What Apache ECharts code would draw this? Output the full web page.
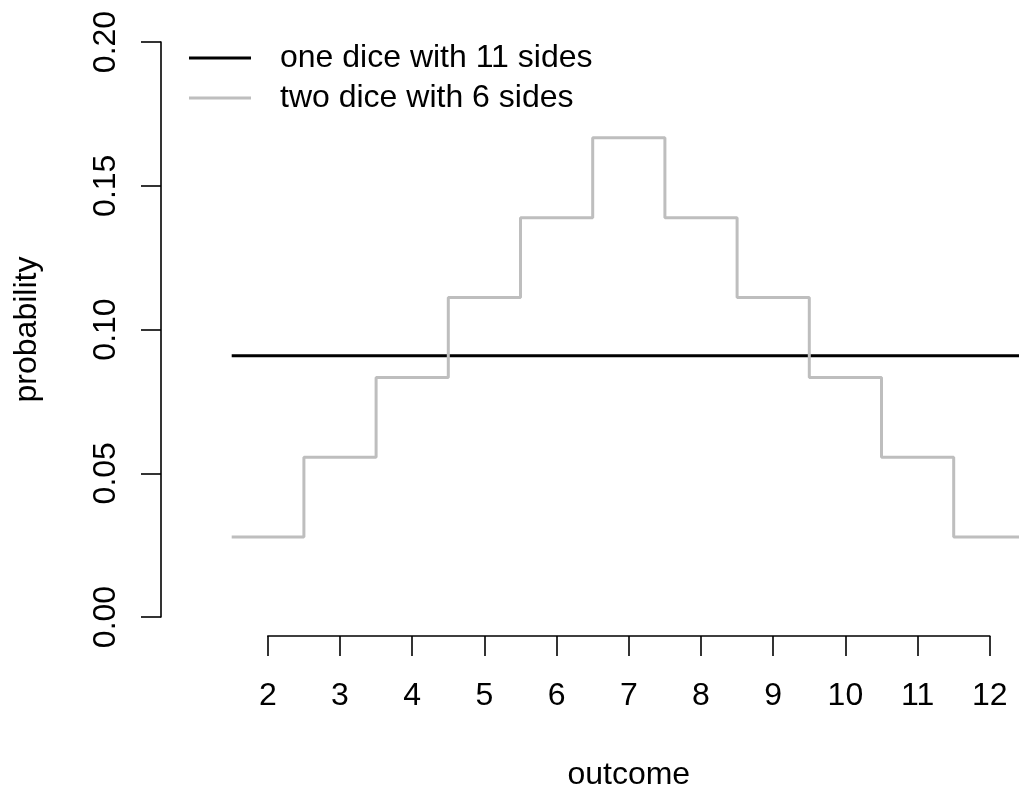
<!DOCTYPE html>
<html>
<head>
<meta charset="utf-8">
<script src="https://cdn.jsdelivr.net/npm/echarts@6/dist/echarts.min.js"></script>
<style>
html,body{margin:0;padding:0;background:#fff;}
#chart{width:1019px;height:792px;}
</style>
</head>
<body>
<div id="chart"></div>
<script>
// ---- data ----
const outcomes = [2, 3, 4, 5, 6, 7, 8, 9, 10, 11, 12];
const oneDice11 = [0.0909, 0.0909, 0.0909, 0.0909, 0.0909, 0.0909, 0.0909, 0.0909, 0.0909, 0.0909, 0.0909];
const twoDice6 = [0.0278, 0.0556, 0.0833, 0.1111, 0.1389, 0.1667, 0.1389, 0.1111, 0.0833, 0.0556, 0.0278];
const seriesNames = ['one dice with 11 sides', 'two dice with 6 sides'];
const yTicks = [0, 0.05, 0.10, 0.15, 0.20];
const xTicks = [2, 3, 4, 5, 6, 7, 8, 9, 10, 11, 12];

// step data: each outcome spans [x-0.5, x+0.5]
function stepData(xs, vs) {
  const d = [[xs[0] - 0.5, vs[0]]];
  xs.forEach((x, i) => d.push([x, vs[i]]));
  d.push([xs[xs.length - 1] + 0.5, vs[vs.length - 1]]);
  return d;
}

const FONT = 'Liberation Sans, Arial, Helvetica, sans-serif';
const W = 1019;
const unit = 72.2;           // px per outcome unit
const xLeft = 161;           // y-axis line position
const x2px = 267.8;          // position of outcome 2
const xMin = xTicks[0] - (x2px - xLeft) / unit;
const xMax = xMin + (W - xLeft) / unit;

const chart = echarts.init(document.getElementById('chart'), null, {renderer: 'canvas'});
chart.setOption({
  animation: false,
  backgroundColor: '#ffffff',
  textStyle: {fontFamily: FONT},
  grid: [
    {left: xLeft, top: 42, width: W - xLeft, height: 575, containLabel: false},
    {left: x2px, top: 600, width: (xTicks[xTicks.length - 1] - xTicks[0]) * unit, height: 40, containLabel: false}
  ],
  legend: {
    orient: 'vertical',
    left: 189,
    top: 38,
    padding: 0,
    itemWidth: 62,
    itemHeight: 3,
    itemGap: 0,
    icon: 'rect',
    textStyle: {fontFamily: FONT, fontSize: 32, color: '#000', lineHeight: 40, padding: [0, 0, 0, 24]},
    data: seriesNames
  },
  xAxis: [
    {
      gridIndex: 0, type: 'value', min: xMin, max: xMax,
      show: false
    },
    {
      gridIndex: 1, type: 'value', min: xTicks[0], max: xTicks[xTicks.length - 1], interval: 1,
      position: 'bottom',
      axisLine: {show: true, lineStyle: {color: '#000', width: 1.6}},
      axisTick: {show: true, length: 20, lineStyle: {color: '#000', width: 1.6}},
      axisLabel: {show: true, color: '#000', fontSize: 32, fontFamily: FONT, margin: 44},
      splitLine: {show: false},
      name: 'outcome', nameLocation: 'middle', nameGap: 123,
      nameTextStyle: {color: '#000', fontSize: 32, fontFamily: FONT}
    }
  ],
  yAxis: [
    {
      gridIndex: 0, type: 'value', min: yTicks[0], max: yTicks[yTicks.length - 1], interval: 0.05,
      axisLine: {show: true, lineStyle: {color: '#000', width: 1.6}},
      axisTick: {show: true, length: 20, lineStyle: {color: '#000', width: 1.6}},
      axisLabel: {show: true, color: '#000', fontSize: 32, fontFamily: FONT, rotate: 90, margin: 39,
        formatter: v => v.toFixed(2)},
      splitLine: {show: false},
      name: 'probability', nameLocation: 'middle', nameGap: 118, nameRotate: 90,
      nameTextStyle: {color: '#000', fontSize: 32, fontFamily: FONT}
    },
    {
      gridIndex: 1, type: 'value', min: 0, max: 1, show: false
    }
  ],
  series: [
    {
      name: seriesNames[0], type: 'line', xAxisIndex: 0, yAxisIndex: 0,
      step: 'middle', symbol: 'none', color: '#000000',
      lineStyle: {color: '#000000', width: 3},
      data: stepData(outcomes, oneDice11), clip: false, z: 2
    },
    {
      name: seriesNames[1], type: 'line', xAxisIndex: 0, yAxisIndex: 0,
      step: 'middle', symbol: 'none', color: '#bebebe',
      lineStyle: {color: '#bebebe', width: 3},
      data: stepData(outcomes, twoDice6), clip: false, z: 3
    }
  ]
});
</script>
</body>
</html>
